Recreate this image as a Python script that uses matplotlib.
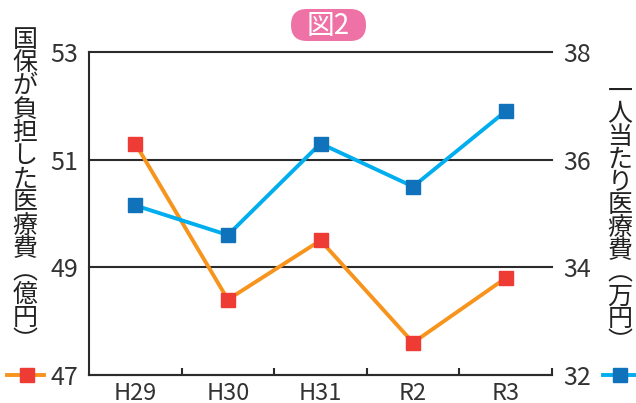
import matplotlib
matplotlib.use("Agg")
import matplotlib.pyplot as plt
from matplotlib.patches import FancyBboxPatch

plt.rcParams['font.family'] = ['Noto Sans CJK JP', 'DejaVu Sans']

years = ["H29", "H30", "H31", "R2", "R3"]
total_cost = [51.3, 48.4, 49.5, 47.6, 48.8]      # 億円 (left axis)
per_person = [35.15, 34.6, 36.3, 35.5, 36.9]     # 万円 (right axis)
left_ticks = [47, 49, 51, 53]
right_ticks = [32, 34, 36, 38]
left_label = "国保が負担した医療費︵億円︶"
right_label = "一人当たり医療費︵万円︶"

txt = "#333333"
grid_c = "#2b2b2b"
orange = "#F7941D"
red = "#EE3B33"
cyan = "#00AEEF"
blue = "#0F72BA"

W, H = 636, 403
fig = plt.figure(figsize=(W / 100, H / 100), dpi=100)
ax = fig.add_axes([89 / W, 1 - 375 / H, (552 - 89) / W, (375 - 52) / H])
ax2 = ax.twinx()

x = list(range(len(years)))
ax.plot(x, total_cost, color=orange, lw=2.8, zorder=3)
ax.plot(x, total_cost, ls="none", marker="s", ms=10, mfc=red, mec=red, zorder=4)
ax2.plot(x, per_person, color=cyan, lw=2.8, zorder=3)
ax2.plot(x, per_person, ls="none", marker="s", ms=10, mfc=blue, mec=blue, zorder=4)

ax.set_xlim(-0.5, len(years) - 0.5)
ax.set_ylim(47, 53)
ax2.set_ylim(32, 38)
ax.set_yticks(left_ticks)
ax2.set_yticks(right_ticks)
ax.set_xticks(x)
ax.set_xticklabels(years)
ax.set_xticks([i + 0.5 for i in x], minor=True)

for s in ["top", "right"]:
    ax.spines[s].set_visible(False)
for s in ax2.spines.values():
    s.set_visible(False)
for s in ["left", "bottom"]:
    ax.spines[s].set_linewidth(1.5)
    ax.spines[s].set_color(grid_c)

ax.tick_params(axis="y", length=0, pad=8, labelsize=18, labelcolor=txt)
ax2.tick_params(axis="y", length=0, pad=8, labelsize=18, labelcolor=txt)
ax.tick_params(axis="x", which="major", length=0, pad=5, labelsize=17, labelcolor=txt)
ax.tick_params(axis="x", which="minor", direction="in", length=5, width=1.5, color=grid_c)

ax.yaxis.grid(True, color=grid_c, lw=1.5)
for gl in ax.get_ygridlines():
    gl.set_clip_on(False)
ax.set_axisbelow(True)

# vertical axis titles, one character per line
for i, ch in enumerate(left_label):
    fig.text(25 / W, 1 - (40 + i * 23.2) / H, ch, ha="center", va="center",
             fontsize=18, color="#222222")
for i, ch in enumerate(right_label):
    fig.text(620 / W, 1 - (92 + i * 22.7) / H, ch, ha="center", va="center",
             fontsize=18, color="#222222")

# legend keys next to the bottom tick labels
fig.lines.append(plt.Line2D([7 / W, 44 / W], [1 - 375 / H] * 2, color=orange, lw=2.8,
                            transform=fig.transFigure))
fig.lines.append(plt.Line2D([27 / W], [1 - 375 / H], ls="none", marker="s", ms=10,
                            mfc=red, mec=red, transform=fig.transFigure))
fig.lines.append(plt.Line2D([603 / W, 636 / W], [1 - 375 / H] * 2, color=cyan, lw=2.8,
                            transform=fig.transFigure))
fig.lines.append(plt.Line2D([620 / W], [1 - 375 / H], ls="none", marker="s", ms=10,
                            mfc=blue, mec=blue, transform=fig.transFigure))

# title badge
badge = FancyBboxPatch((291 / W, 1 - 41 / H), 75 / W, 32 / H,
                       boxstyle="round,pad=0,rounding_size=0.025",
                       transform=fig.transFigure, facecolor="#EE72A6", edgecolor="none",
                       mutation_aspect=W / H)
fig.patches.append(badge)
fig.text(328 / W, 1 - 26 / H, "図2", ha="center", va="center", fontsize=20, color="white")

fig.savefig("out.png", dpi=100)
